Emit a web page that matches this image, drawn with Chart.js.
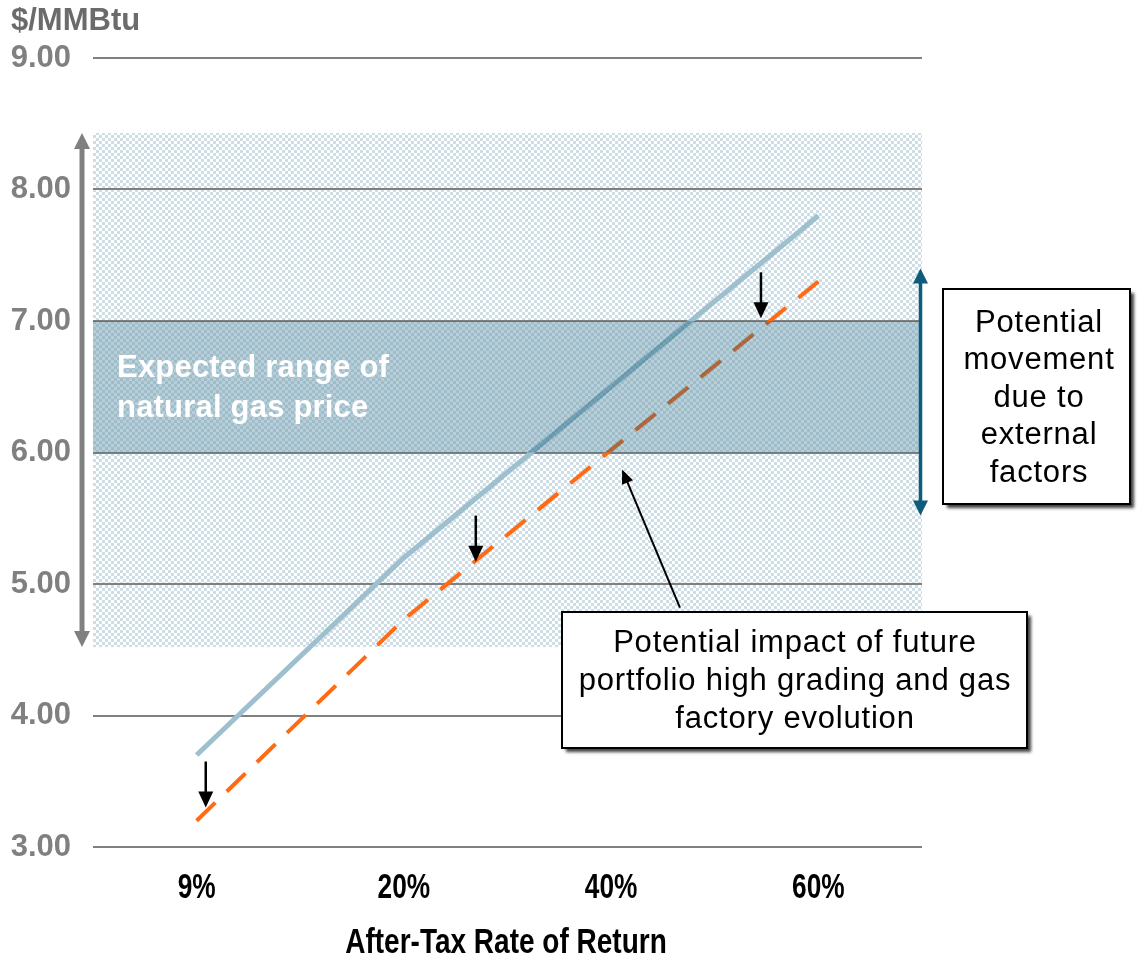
<!DOCTYPE html>
<html>
<head>
<meta charset="utf-8">
<script src="https://cdn.jsdelivr.net/npm/chart.js@4.4.1/dist/chart.umd.min.js"></script>
<style>
  html, body { margin: 0; padding: 0; background: #ffffff; }
  #wrap { width: 1137px; height: 957px; position: relative; }
</style>
</head>
<body>
<div id="wrap"><canvas id="chart" width="1137" height="957"></canvas></div>
<script>
// Break-even gas price by after-tax rate of return
const categories = ['9%', '20%', '40%', '60%'];
const currentPrice = [3.70, 5.20, 6.50, 7.80];
const improvedPrice = [3.20, 4.73, 6.02, 7.30];

// Shaded price bands ($/MMBtu)
const outerRange = [4.52, 8.43];
const expectedRange = [6.00, 7.00];
const externalMove = [5.52, 7.40];

// Downward shift arrows: x as category position, y from/to in $/MMBtu
const shiftX = [0.044, 1.347, 2.723];
const shiftFrom = [3.65, 5.52, 7.37];
const shiftTo = [3.30, 5.17, 7.02];

// Callout pointer: [category position, $/MMBtu]
const calloutFrom = [2.332, 4.82];
const calloutTo = [2.053, 5.87];

const unitLabel = '$/MMBtu';
const axisTitle = 'After-Tax Rate of Return';
const bandLabel = ['Expected range of', 'natural gas price'];
const externalLabel = ['Potential', 'movement', 'due to', 'external', 'factors'];
const impactLabel = ['Potential impact of future', 'portfolio high grading and gas', 'factory evolution'];

const SANS = '"Liberation Sans", Arial, sans-serif';

function checker(c1, c2, size) {
  const cv = document.createElement('canvas');
  cv.width = size * 2; cv.height = size * 2;
  const g = cv.getContext('2d');
  g.fillStyle = c1; g.fillRect(0, 0, size * 2, size * 2);
  g.clearRect(0, 0, size, size);
  g.clearRect(size, size, size, size);
  g.fillStyle = c2;
  g.fillRect(0, 0, size, size);
  g.fillRect(size, size, size, size);
  return cv;
}

function arrowHead(ctx, x1, y1, x2, y2, len, w) {
  const a = Math.atan2(y2 - y1, x2 - x1);
  ctx.beginPath();
  ctx.moveTo(x2, y2);
  ctx.lineTo(x2 - len * Math.cos(a) + (w / 2) * Math.sin(a), y2 - len * Math.sin(a) - (w / 2) * Math.cos(a));
  ctx.lineTo(x2 - len * Math.cos(a) - (w / 2) * Math.sin(a), y2 - len * Math.sin(a) + (w / 2) * Math.cos(a));
  ctx.closePath();
  ctx.fill();
}

function arrow(ctx, x1, y1, x2, y2, color, lw, len, w, both) {
  const a = Math.atan2(y2 - y1, x2 - x1);
  ctx.save();
  ctx.strokeStyle = color; ctx.fillStyle = color; ctx.lineWidth = lw;
  const sx = both ? x1 + (len - 2) * Math.cos(a) : x1;
  const sy = both ? y1 + (len - 2) * Math.sin(a) : y1;
  ctx.beginPath();
  ctx.moveTo(sx, sy);
  ctx.lineTo(x2 - (len - 2) * Math.cos(a), y2 - (len - 2) * Math.sin(a));
  ctx.stroke();
  arrowHead(ctx, x1, y1, x2, y2, len, w);
  if (both) arrowHead(ctx, x2, y2, x1, y1, len, w);
  ctx.restore();
}

function xAt(xs, pos) {
  const p0 = xs.getPixelForValue(0), p1 = xs.getPixelForValue(1);
  return p0 + pos * (p1 - p0);
}

// Horizontally condensed bold text, drawn centred at (cx, cy)
function narrowText(ctx, text, cx, cy, size, squeeze) {
  ctx.save();
  ctx.translate(cx, cy);
  ctx.scale(squeeze, 1);
  ctx.fillStyle = '#000000';
  ctx.font = 'bold ' + size + 'px ' + SANS;
  ctx.textAlign = 'center';
  ctx.textBaseline = 'middle';
  ctx.fillText(text, 0, 0);
  ctx.restore();
}

function textBox(ctx, x, y, w, h, lines, cx, firstY, step) {
  ctx.save();
  ctx.shadowColor = 'rgba(0,0,0,0.75)';
  ctx.shadowBlur = 3;
  ctx.shadowOffsetX = 4;
  ctx.shadowOffsetY = 4;
  ctx.fillStyle = '#ffffff';
  ctx.fillRect(x, y, w, h);
  ctx.restore();
  ctx.save();
  ctx.strokeStyle = '#000000';
  ctx.lineWidth = 2;
  ctx.strokeRect(x, y, w, h);
  ctx.fillStyle = '#000000';
  ctx.font = '31px ' + SANS;
  ctx.textAlign = 'center';
  ctx.textBaseline = 'middle';
  if ('letterSpacing' in ctx) ctx.letterSpacing = '0.8px';
  lines.forEach((t, i) => ctx.fillText(t, cx, firstY + i * step));
  ctx.restore();
}

// Light hatched band sits under the grid; the expected band overlays the lines.
const bandPlugin = {
  id: 'bands',
  beforeDraw(chart) {
    const { ctx, chartArea: ca, scales: { y } } = chart;
    const pat = ctx.createPattern(checker('#ffffff', '#cfdde5', 3), 'repeat');
    const top = y.getPixelForValue(outerRange[1]);
    const midTop = y.getPixelForValue(expectedRange[1]);
    const midBot = y.getPixelForValue(expectedRange[0]);
    const bot = y.getPixelForValue(outerRange[0]);
    ctx.save();
    ctx.fillStyle = pat;
    ctx.fillRect(ca.left, top, ca.right - ca.left, midTop - top);
    ctx.fillRect(ca.left, midBot, ca.right - ca.left, bot - midBot);
    ctx.restore();
  },
  afterDatasetsDraw(chart) {
    const { ctx, chartArea: ca, scales: { x, y } } = chart;
    const pat = ctx.createPattern(checker('rgba(30,100,130,0.31)', 'rgba(30,100,130,0.43)', 3), 'repeat');
    const top = y.getPixelForValue(expectedRange[1]);
    const bot = y.getPixelForValue(expectedRange[0]);
    ctx.save();
    ctx.fillStyle = pat;
    ctx.fillRect(ca.left, top, ca.right - ca.left, bot - top);
    ctx.restore();

    // band caption
    ctx.save();
    ctx.fillStyle = '#ffffff';
    ctx.font = 'bold 31px ' + SANS;
    if ('letterSpacing' in ctx) ctx.letterSpacing = '0.2px';
    ctx.textBaseline = 'middle';
    ctx.fillText(bandLabel[0], ca.left + 24, 368);
    ctx.fillText(bandLabel[1], ca.left + 24, 408);
    ctx.restore();

    // range arrows
    arrow(ctx, ca.left - 11, y.getPixelForValue(outerRange[0]), ca.left - 11, y.getPixelForValue(outerRange[1]),
      '#808080', 5, 16, 16, true);
    arrow(ctx, ca.right - 1.5, y.getPixelForValue(externalMove[0]), ca.right - 1.5, y.getPixelForValue(externalMove[1]),
      '#0f5b7c', 3.5, 15, 15, true);

    // shift arrows
    shiftX.forEach((p, i) => {
      const px = xAt(x, p);
      arrow(ctx, px, y.getPixelForValue(shiftFrom[i]), px, y.getPixelForValue(shiftTo[i]), '#000000', 2.5, 16, 15, false);
    });

    // callout pointer
    arrow(ctx, xAt(x, calloutFrom[0]), y.getPixelForValue(calloutFrom[1]),
      xAt(x, calloutTo[0]), y.getPixelForValue(calloutTo[1]), '#000000', 2, 14, 12, false);
  },
  afterDraw(chart) {
    const { ctx, scales: { x } } = chart;
    ctx.save();
    ctx.fillStyle = '#6b6b6b';
    ctx.font = 'bold 31px ' + SANS;
    ctx.textBaseline = 'middle';
    ctx.fillText(unitLabel, 11, 21);
    ctx.restore();

    // category labels and axis title in a condensed bold face
    categories.forEach((c, i) => narrowText(ctx, c, x.getPixelForTick(i), 888, 35, 0.75));
    narrowText(ctx, axisTitle, (x.left + x.right) / 2 - 1.5, 943, 35, 0.80);

    textBox(ctx, 943, 289, 187, 215, externalLabel, 1039, 323, 37.5);
    textBox(ctx, 562, 612, 465, 136, impactLabel, 795, 643, 38);
  }
};

new Chart(document.getElementById('chart'), {
  type: 'line',
  data: {
    labels: categories,
    datasets: [
      {
        data: currentPrice,
        borderColor: '#9ebfcd',
        borderWidth: 5,
        pointRadius: 0,
        tension: 0,
        borderCapStyle: 'butt'
      },
      {
        data: improvedPrice,
        borderColor: '#ff6a13',
        borderWidth: 4,
        borderDash: [26, 16],
        pointRadius: 0,
        tension: 0,
        borderCapStyle: 'butt'
      }
    ]
  },
  options: {
    responsive: false,
    animation: false,
    layout: { padding: { left: 0, right: 215, top: 58, bottom: 0 } },
    plugins: { legend: { display: false }, tooltip: { enabled: false } },
    scales: {
      x: {
        offset: true,
        grid: { display: false },
        border: { display: false },
        ticks: { display: false },
        afterFit(s) { s.height = 110; }
      },
      y: {
        min: 3,
        max: 9,
        grid: { color: '#808080', lineWidth: 2, drawTicks: false },
        border: { display: false },
        ticks: {
          stepSize: 1,
          color: '#808080',
          font: { family: SANS, size: 31, weight: 'bold' },
          padding: 22,
          callback: v => Number(v).toFixed(2)
        },
        afterFit(s) { s.width = 93; }
      }
    }
  },
  plugins: [bandPlugin]
});
</script>
</body>
</html>
